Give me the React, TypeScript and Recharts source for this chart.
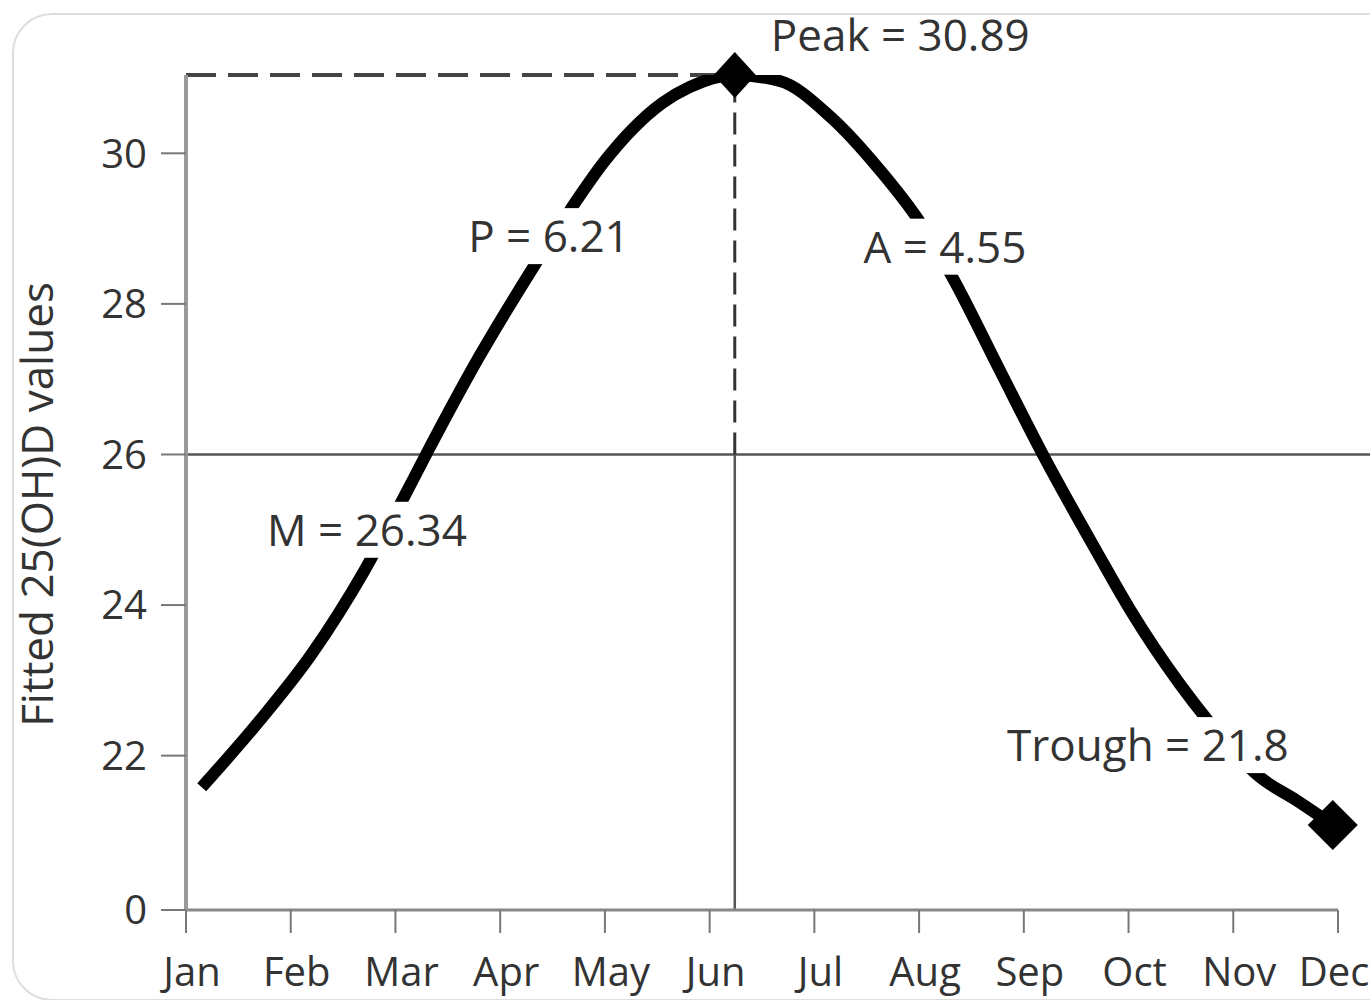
import { LineChart, Line, XAxis, YAxis, ReferenceLine, ReferenceDot } from "recharts"

const months = ["Jan", "Feb", "Mar", "Apr", "May", "Jun", "Jul", "Aug", "Sep", "Oct", "Nov", "Dec"]
const monthTicks = [0, 1, 2, 3, 4, 5, 6, 7, 8, 9, 10, 11]

// curve (month position, fitted value)
const monthPos = [
    0.15, 0.7, 1.2, 1.7, 2.05, 2.3, 2.8, 3.3, 3.67, 4.0, 4.27, 4.55, 4.81, 5.24,
    5.67, 6.15, 6.63, 7.01, 7.32, 7.77, 8.17, 8.7, 9.01, 9.49, 9.75, 10.25, 10.61, 10.95,
]
const fitted = [
    21.58, 22.46, 23.35, 24.45, 25.35, 26.02, 27.3, 28.45, 29.25, 29.9, 30.33, 30.67, 30.88, 31.04,
    30.96, 30.49, 29.77, 29.08, 28.35, 27.12, 26.03, 24.7, 23.95, 22.95, 22.48, 21.72, 21.4, 21.08,
]

// broken axis: bottom tick is labelled 0
const yFloor = 19.95
const yTicks = [19.95, 22, 24, 26, 28, 30]
const meanLevel = 26

const notes = [
    { text: "Peak = 30.89", month: 6.82, value: 31.57, boxed: false },
    { text: "P = 6.21", month: 3.466, value: 28.9, boxed: true },
    { text: "A = 4.55", month: 7.247, value: 28.76, boxed: true },
    { text: "M = 26.34", month: 1.728, value: 25.0, boxed: true },
    { text: "Trough = 21.8", month: 9.185, value: 22.14, boxed: true },
]

const data = monthPos.map((m, i) => ({ month: m, value: fitted[i] }))
const peak = data[fitted.indexOf(Math.max(...fitted))]
const trough = data[data.length - 1]

const FONT = "'Open Sans', 'Noto Sans', sans-serif"
const TEXT = "#333"

function Diamond(props: any) {
    const { cx, cy, h = 23, w = 21 } = props
    return <path d={`M${cx},${cy - h} L${cx + w},${cy} L${cx},${cy + h} L${cx - w},${cy} Z`} fill="#000" />
}

function NoteShape(props: any) {
    const { cx, cy, text, boxed } = props
    const fs = 44
    const w = text.length * fs * 0.5 + 10
    return (
        <g>
            {boxed && <rect x={cx - w / 2} y={cy - 28} width={w} height={56} fill="#fff" />}
            <text x={cx} y={cy + fs * 0.36} textAnchor="middle" fontSize={fs} fontFamily={FONT} fill={TEXT}>
                {text}
            </text>
        </g>
    )
}

function MonthTick(props: any) {
    const { x, y, payload } = props
    const last = payload.value === monthTicks[monthTicks.length - 1]
    return (
        <text x={last ? x - 4 : x + 6} y={y + 28} textAnchor="middle" fontSize={40} fontFamily={FONT} fill={TEXT}>
            {months[payload.value]}
        </text>
    )
}

function AxisTitle(props: any) {
    const vb = props.viewBox
    const x = vb.x - 33
    const y = vb.y + vb.height / 2 + 12
    return (
        <text x={x} y={y} transform={`rotate(-90 ${x} ${y})`} textAnchor="middle" fontSize={44} fontFamily={FONT} fill={TEXT}>
            Fitted 25(OH)D values
        </text>
    )
}

export default function App() {
    return (
        <div style={{ position: "absolute", left: 0, top: 0, width: 1370, height: 1000, overflow: "hidden", background: "#fff" }}>
            {/* card outline */}
            <div style={{ position: "absolute", left: 12, top: 13, width: 1420, height: 984, border: "2px solid #dedede", borderRadius: 40 }} />
            <div style={{ position: "absolute", left: 0, top: 0 }}>
                <LineChart width={1370} height={1000} data={data} margin={{ top: 75, right: 32, bottom: 0, left: 86 }}>
                    <XAxis
                        type="number"
                        dataKey="month"
                        domain={[0, 11]}
                        ticks={monthTicks}
                        interval={0}
                        allowDataOverflow
                        height={90}
                        tickSize={23}
                        tickMargin={25}
                        tick={(p: any) => <MonthTick {...p} />}
                        tickLine={{ stroke: "#777", strokeWidth: 2 }}
                        axisLine={{ stroke: "#888", strokeWidth: 3 }}
                    />
                    <YAxis
                        type="number"
                        domain={[yFloor, peak.value]}
                        ticks={yTicks}
                        interval={0}
                        allowDataOverflow
                        tickFormatter={(v: number) => (v < 21 ? "0" : String(v))}
                        width={100}
                        tickSize={25}
                        tickMargin={14}
                        tick={{ fill: TEXT, fontSize: 40, fontFamily: FONT }}
                        tickLine={{ stroke: "#777", strokeWidth: 2 }}
                        axisLine={{ stroke: "#9a9a9a", strokeWidth: 4 }}
                        label={{ content: (p: any) => <AxisTitle {...p} /> }}
                    />

                    {/* mean level line */}
                    <ReferenceLine
                        segment={[{ x: 0, y: meanLevel }, { x: 11.31, y: meanLevel }]}
                        stroke="#555"
                        strokeWidth={2.5}
                        ifOverflow="visible"
                    />
                    {/* peak guides */}
                    <ReferenceLine
                        segment={[{ x: peak.month, y: yFloor }, { x: peak.month, y: meanLevel }]}
                        stroke="#555"
                        strokeWidth={2.5}
                        ifOverflow="visible"
                    />
                    <ReferenceLine
                        segment={[{ x: peak.month, y: meanLevel }, { x: peak.month, y: peak.value }]}
                        stroke="#333"
                        strokeWidth={3}
                        strokeDasharray="22 10"
                        ifOverflow="visible"
                    />
                    <ReferenceLine
                        segment={[{ x: 0, y: peak.value }, { x: peak.month, y: peak.value }]}
                        stroke="#444"
                        strokeWidth={4}
                        strokeDasharray="30 12"
                        ifOverflow="visible"
                    />

                    <Line
                        type="monotone"
                        dataKey="value"
                        stroke="#000"
                        strokeWidth={12}
                        dot={false}
                        activeDot={false}
                        isAnimationActive={false}
                    />

                    <ReferenceDot x={peak.month} y={peak.value} ifOverflow="visible" shape={(p: any) => <Diamond {...p} />} />
                    <ReferenceDot x={trough.month} y={trough.value} ifOverflow="visible" shape={(p: any) => <Diamond {...p} h={25} w={25} />} />

                    {notes.map((n) => (
                        <ReferenceDot
                            key={n.text}
                            x={n.month}
                            y={n.value}
                            ifOverflow="visible"
                            shape={(p: any) => <NoteShape {...p} text={n.text} boxed={n.boxed} />}
                        />
                    ))}
                </LineChart>
            </div>
        </div>
    )
}
